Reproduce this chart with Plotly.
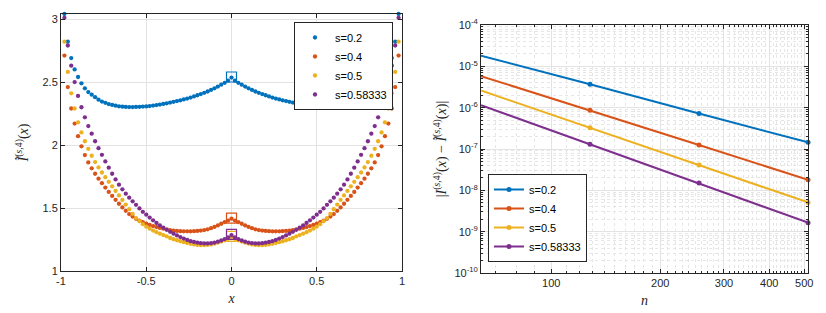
import plotly.graph_objects as go

# ---------------- data: left panel ----------------
x_pts = [-0.98, -0.96, -0.94, -0.92, -0.90, -0.88, -0.86, -0.84, -0.82, -0.80,
         -0.78, -0.76, -0.74, -0.72, -0.70, -0.68, -0.66, -0.64, -0.62, -0.60,
         -0.58, -0.56, -0.54, -0.52, -0.50, -0.48, -0.46, -0.44, -0.42, -0.40,
         -0.38, -0.36, -0.34, -0.32, -0.30, -0.28, -0.26, -0.24, -0.22, -0.20,
         -0.18, -0.16, -0.14, -0.12, -0.10, -0.08, -0.06, -0.04, -0.02, 0.00,
         0.02, 0.04, 0.06, 0.08, 0.10, 0.12, 0.14, 0.16, 0.18, 0.20,
         0.22, 0.24, 0.26, 0.28, 0.30, 0.32, 0.34, 0.36, 0.38, 0.40,
         0.42, 0.44, 0.46, 0.48, 0.50, 0.52, 0.54, 0.56, 0.58, 0.60,
         0.62, 0.64, 0.66, 0.68, 0.70, 0.72, 0.74, 0.76, 0.78, 0.80,
         0.82, 0.84, 0.86, 0.88, 0.90, 0.92, 0.94, 0.96, 0.98]

I_s02 = [3.04, 2.82, 2.69, 2.60, 2.54, 2.49, 2.45, 2.42, 2.40, 2.38,
         2.36, 2.345, 2.335, 2.325, 2.318, 2.312, 2.307, 2.304, 2.302, 2.301,
         2.301, 2.302, 2.303, 2.305, 2.306, 2.309, 2.313, 2.317, 2.321, 2.326,
         2.331, 2.337, 2.343, 2.349, 2.355, 2.362, 2.369, 2.377, 2.386, 2.395,
         2.404, 2.414, 2.425, 2.437, 2.450, 2.464, 2.479, 2.494, 2.511, 2.535,
         2.511, 2.494, 2.479, 2.464, 2.450, 2.437, 2.425, 2.414, 2.404, 2.395,
         2.386, 2.377, 2.369, 2.362, 2.355, 2.349, 2.343, 2.337, 2.331, 2.326,
         2.321, 2.317, 2.313, 2.309, 2.306, 2.305, 2.303, 2.302, 2.301, 2.301,
         2.302, 2.304, 2.307, 2.312, 2.318, 2.325, 2.335, 2.345, 2.36, 2.38,
         2.40, 2.42, 2.45, 2.49, 2.54, 2.60, 2.69, 2.82, 3.04]

I_s04 = [2.71, 2.46, 2.29, 2.17, 2.07, 1.99, 1.92, 1.862, 1.815, 1.772,
         1.733, 1.697, 1.662, 1.628, 1.596, 1.565, 1.534, 1.505, 1.478, 1.452,
         1.432, 1.414, 1.400, 1.387, 1.376, 1.366, 1.357, 1.349, 1.342, 1.336,
         1.330, 1.325, 1.321, 1.318, 1.316, 1.315, 1.315, 1.315, 1.316, 1.318,
         1.321, 1.325, 1.331, 1.340, 1.350, 1.362, 1.375, 1.388, 1.400, 1.415,
         1.400, 1.388, 1.375, 1.362, 1.350, 1.340, 1.331, 1.325, 1.321, 1.318,
         1.316, 1.315, 1.315, 1.315, 1.316, 1.318, 1.321, 1.325, 1.330, 1.336,
         1.342, 1.349, 1.357, 1.366, 1.376, 1.387, 1.400, 1.414, 1.432, 1.452,
         1.478, 1.505, 1.534, 1.565, 1.596, 1.628, 1.662, 1.697, 1.733, 1.772,
         1.815, 1.862, 1.92, 1.99, 2.07, 2.17, 2.29, 2.46, 2.71]

I_s05 = [2.82, 2.58, 2.41, 2.29, 2.18, 2.10, 2.03, 1.97, 1.915, 1.865,
         1.822, 1.782, 1.745, 1.708, 1.672, 1.636, 1.600, 1.564, 1.527, 1.49,
         1.454, 1.42, 1.395, 1.372, 1.352, 1.336, 1.321, 1.308, 1.296, 1.285,
         1.275, 1.262, 1.252, 1.244, 1.236, 1.229, 1.222, 1.216, 1.211, 1.207,
         1.205, 1.205, 1.207, 1.211, 1.217, 1.225, 1.234, 1.244, 1.256, 1.27,
         1.256, 1.244, 1.234, 1.225, 1.217, 1.211, 1.207, 1.205, 1.205, 1.207,
         1.211, 1.216, 1.222, 1.229, 1.236, 1.244, 1.252, 1.262, 1.275, 1.285,
         1.296, 1.308, 1.321, 1.336, 1.352, 1.372, 1.395, 1.42, 1.454, 1.49,
         1.527, 1.564, 1.600, 1.636, 1.672, 1.708, 1.745, 1.782, 1.822, 1.865,
         1.915, 1.97, 2.03, 2.10, 2.18, 2.29, 2.41, 2.58, 2.82]

I_s0583 = [3.01, 2.79, 2.63, 2.50, 2.39, 2.30, 2.22, 2.15, 2.09, 2.03,
           1.975, 1.922, 1.87, 1.82, 1.772, 1.727, 1.685, 1.648, 1.614, 1.582,
           1.553, 1.525, 1.497, 1.47, 1.447, 1.424, 1.402, 1.381, 1.362, 1.344,
           1.327, 1.311, 1.296, 1.282, 1.269, 1.257, 1.246, 1.237, 1.23, 1.225,
           1.221, 1.219, 1.219, 1.221, 1.226, 1.233, 1.242, 1.253, 1.267, 1.285,
           1.267, 1.253, 1.242, 1.233, 1.226, 1.221, 1.219, 1.219, 1.221, 1.225,
           1.23, 1.237, 1.246, 1.257, 1.269, 1.282, 1.296, 1.311, 1.327, 1.344,
           1.362, 1.381, 1.402, 1.424, 1.447, 1.47, 1.497, 1.525, 1.553, 1.582,
           1.614, 1.648, 1.685, 1.727, 1.772, 1.82, 1.87, 1.922, 1.975, 2.03,
           2.09, 2.15, 2.22, 2.30, 2.39, 2.50, 2.63, 2.79, 3.01]

# values marked with squares at x = 0
center_x = [0.0]
center_vals = [2.54, 1.42, 1.275, 1.29]

# ---------------- data: right panel ----------------
n_vals = [64, 128, 256, 512]
err_s02 = [1.8e-5, 3.7e-6, 7.2e-7, 1.45e-7]
err_s04 = [5.8e-6, 8.7e-7, 1.25e-7, 1.8e-8]
err_s05 = [2.6e-6, 3.25e-7, 4.1e-8, 5.1e-9]
err_s0583 = [1.15e-6, 1.3e-7, 1.5e-8, 1.65e-9]

labels = ["s=0.2", "s=0.4", "s=0.5", "s=0.58333"]
colors = ["#0072BD", "#D95319", "#EDB120", "#7E2F8E"]

left_series = [I_s02, I_s04, I_s05, I_s0583]
right_series = [err_s02, err_s04, err_s05, err_s0583]

for s in left_series:
    assert len(s) == len(x_pts)

fig = go.Figure()

for lab, col, ys in zip(labels, colors, left_series):
    fig.add_trace(go.Scatter(
        x=x_pts, y=ys, mode="markers", name=lab,
        marker=dict(color=col, size=4.3, line=dict(width=0)),
        xaxis="x", yaxis="y", legend="legend", cliponaxis=False))

for col, v in zip(colors, center_vals):
    fig.add_trace(go.Scatter(
        x=center_x, y=[v], mode="markers", showlegend=False,
        marker=dict(symbol="square-open", color=col, size=10, line=dict(width=1.2, color=col)),
        xaxis="x", yaxis="y"))

for lab, col, ys in zip(labels, colors, right_series):
    fig.add_trace(go.Scatter(
        x=n_vals, y=ys, mode="lines+markers", name=lab,
        line=dict(color=col, width=2),
        marker=dict(color=col, size=5),
        xaxis="x2", yaxis="y2", legend="legend2", cliponaxis=False))

W, H = 826, 313
axcol = "#262626"
gridcol = "#e3e3e3"
tickfont = dict(family="Liberation Sans, Arial, sans-serif", size=11, color=axcol)
titlefont = dict(family="Liberation Serif, Times New Roman, serif", size=14, color=axcol)

common = dict(showline=True, linecolor=axcol, linewidth=1, mirror="ticks",
              ticks="inside", ticklen=4, tickcolor=axcol, tickfont=tickfont,
              showgrid=True, gridcolor=gridcol, gridwidth=1, zeroline=False,
              automargin=False)

y_minor = [m * 10.0 ** e for e in range(-10, -4) for m in range(2, 10)]
x_minor = [v for v in range(70, 520, 10) if v not in (100, 200, 300, 400, 500)]

fig.update_layout(
    width=W, height=H,
    margin=dict(l=0, r=0, t=0, b=0, autoexpand=False),
    paper_bgcolor="white", plot_bgcolor="white",
    xaxis=dict(domain=[61 / W, 402 / W], range=[-1, 1],
               tickvals=[-1, -0.5, 0, 0.5, 1], ticktext=["-1", "-0.5", "0", "0.5", "1"],
               title=dict(text="<i>x</i>", font=titlefont, standoff=6), anchor="y", **common),
    yaxis=dict(domain=[1 - 271 / H, 1 - 14 / H], range=[1, 3.04],
               tickvals=[1, 1.5, 2, 2.5, 3], ticktext=["1", "1.5", "2", "2.5", "3"],
               title=dict(text="<i>Ĩ</i><sup>(<i>s</i>,4)</sup>(<i>x</i>)", font=titlefont, standoff=10),
               anchor="x", **common),
    xaxis2=dict(domain=[481 / W, 808 / W], type="log", range=[1.80618, 2.70927],
                tickvals=[100, 200, 300, 400, 500], ticktext=["100", "200", "300", "400", "500"],
                minor=dict(tickvals=x_minor, ticks="inside", ticklen=2, tickcolor=axcol,
                           showgrid=True, gridcolor="#e6e6e6", griddash="dot", gridwidth=1),
                title=dict(text="<i>n</i>", font=titlefont, standoff=6), anchor="y2", **common),
    yaxis2=dict(domain=[1 - 273 / H, 1 - 25 / H], type="log", range=[-10, -4],
                tickvals=[1e-10, 1e-9, 1e-8, 1e-7, 1e-6, 1e-5, 1e-4],
                ticktext=["10<sup>-10</sup>", "10<sup>-9</sup>", "10<sup>-8</sup>", "10<sup>-7</sup>",
                          "10<sup>-6</sup>", "10<sup>-5</sup>", "10<sup>-4</sup>"],
                minor=dict(tickvals=y_minor, ticks="inside", ticklen=2, tickcolor=axcol,
                           showgrid=True, gridcolor="#e6e6e6", griddash="dot", gridwidth=1),
                title=dict(text="|<i>I</i><sup>(<i>s</i>,4)</sup>(<i>x</i>) − <i>Ĩ</i><sup>(<i>s</i>,4)</sup>(<i>x</i>)|",
                           font=titlefont, standoff=4),
                anchor="x2", **common),
    legend=dict(x=294 / W, y=1 - 22 / H, xanchor="left", yanchor="top",
                bgcolor="white", bordercolor=axcol, borderwidth=1,
                font=dict(family="Liberation Sans, Arial, sans-serif", size=11, color="black"),
                itemsizing="trace", tracegroupgap=0),
    legend2=dict(x=488 / W, y=1 - 262 / H, xanchor="left", yanchor="bottom",
                 bgcolor="white", bordercolor=axcol, borderwidth=1,
                 font=dict(family="Liberation Sans, Arial, sans-serif", size=11, color="black"),
                 tracegroupgap=0),
    showlegend=True,
)

fig.write_html("out.html", config={"displayModeBar": False},
               post_script="document.body.style.margin='0';document.body.style.overflow='hidden';")
